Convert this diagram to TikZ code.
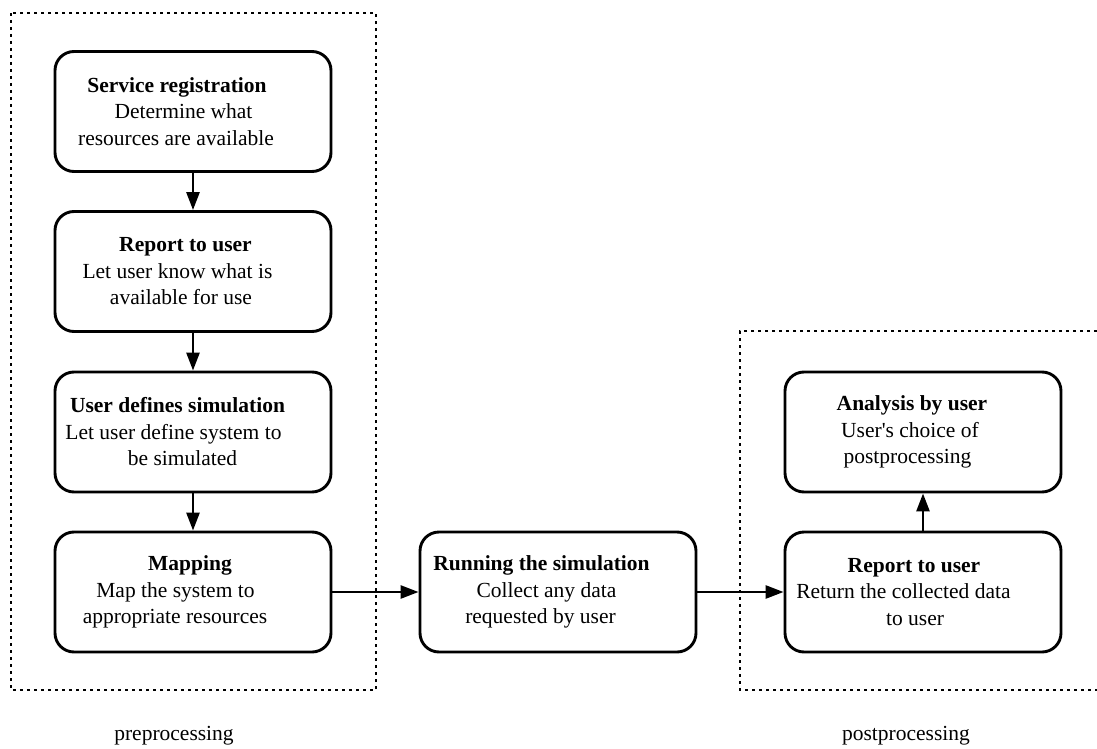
\documentclass[tikz,border=0pt]{standalone}
\usepackage{fontspec}
\setmainfont{Liberation Serif}
\usetikzlibrary{arrows.meta}
% shift one centred line sideways without changing its width
\newcommand\shiftln[2]{\hbox{\kern#1\relax#2\kern-#1\relax}}
\tikzset{
  stage/.style={draw, line width=2.9pt, rounded corners=19pt,
    minimum width=276pt, minimum height=120pt, inner sep=0pt,
    align=center, font=\fontsize{21.5}{26.5}\selectfont},
  flow/.style={-{Triangle[length=18pt,width=13pt]}, line width=2.7pt},
  phase/.style={line width=2.6pt, dash pattern=on 3pt off 4pt},
  caption/.style={font=\fontsize{21.5}{26.5}\selectfont, anchor=base, inner sep=0pt},
}
\begin{document}
\begin{tikzpicture}[x=1pt, y=-1pt]
\useasboundingbox (0,0) rectangle (1097,749);

% phase frames
\draw[phase] (11,13) rectangle (376,690);
\draw[phase] (1097,331) -- (740,331) -- (740,690) -- (1097,690);

% preprocessing column
\node[stage] (reg) at (193,111.5)
  {\shiftln{-16pt}{\textbf{Service registration}}\\
   \shiftln{-9.5pt}{Determine what}\\
   \shiftln{-17pt}{resources are available}};
\node[stage] (rep) at (193,271.5)
  {\shiftln{-7.5pt}{\textbf{Report to user}}\\
   \shiftln{-15.5pt}{Let user know what is}\\
   \shiftln{-12pt}{available for use}};
\node[stage] (def) at (193,432)
  {\shiftln{-15.5pt}{\textbf{User defines simulation}}\\
   \shiftln{-19.5pt}{Let user define system to}\\
   \shiftln{-10.5pt}{be simulated}};
\node[stage] (map) at (193,592)
  {\shiftln{-3pt}{\textbf{Mapping}}\\
   \shiftln{-17.5pt}{Map the system to}\\
   \shiftln{-18pt}{appropriate resources}};

% simulation run
\node[stage] (run) at (558,592)
  {\shiftln{-16.5pt}{\textbf{Running the simulation}}\\
   \shiftln{-11.5pt}{Collect any data}\\
   \shiftln{-17.5pt}{requested by user}};

% postprocessing column
\node[stage] (back) at (923,592)
  {\shiftln{-9pt}{\textbf{Report to user}}\\
   \shiftln{-19.5pt}{Return the collected data}\\
   \shiftln{-8pt}{to user}};
\node[stage] (ana) at (923,432)
  {\shiftln{-11pt}{\textbf{Analysis by user}}\\
   \shiftln{-13pt}{User\textquotesingle s choice of}\\
   \shiftln{-15.5pt}{postprocessing}};

% connectors
\draw[flow] (reg) -- (rep);
\draw[flow] (rep) -- (def);
\draw[flow] (def) -- (map);
\draw[flow] (map) -- (run);
\draw[flow] (run) -- (back);
\draw[flow] (back) -- (ana);

% phase captions
\node[caption] (pre) at (174,740) {preprocessing};
\node[caption] (post) at (906,740) {postprocessing};
\end{tikzpicture}
\end{document}
